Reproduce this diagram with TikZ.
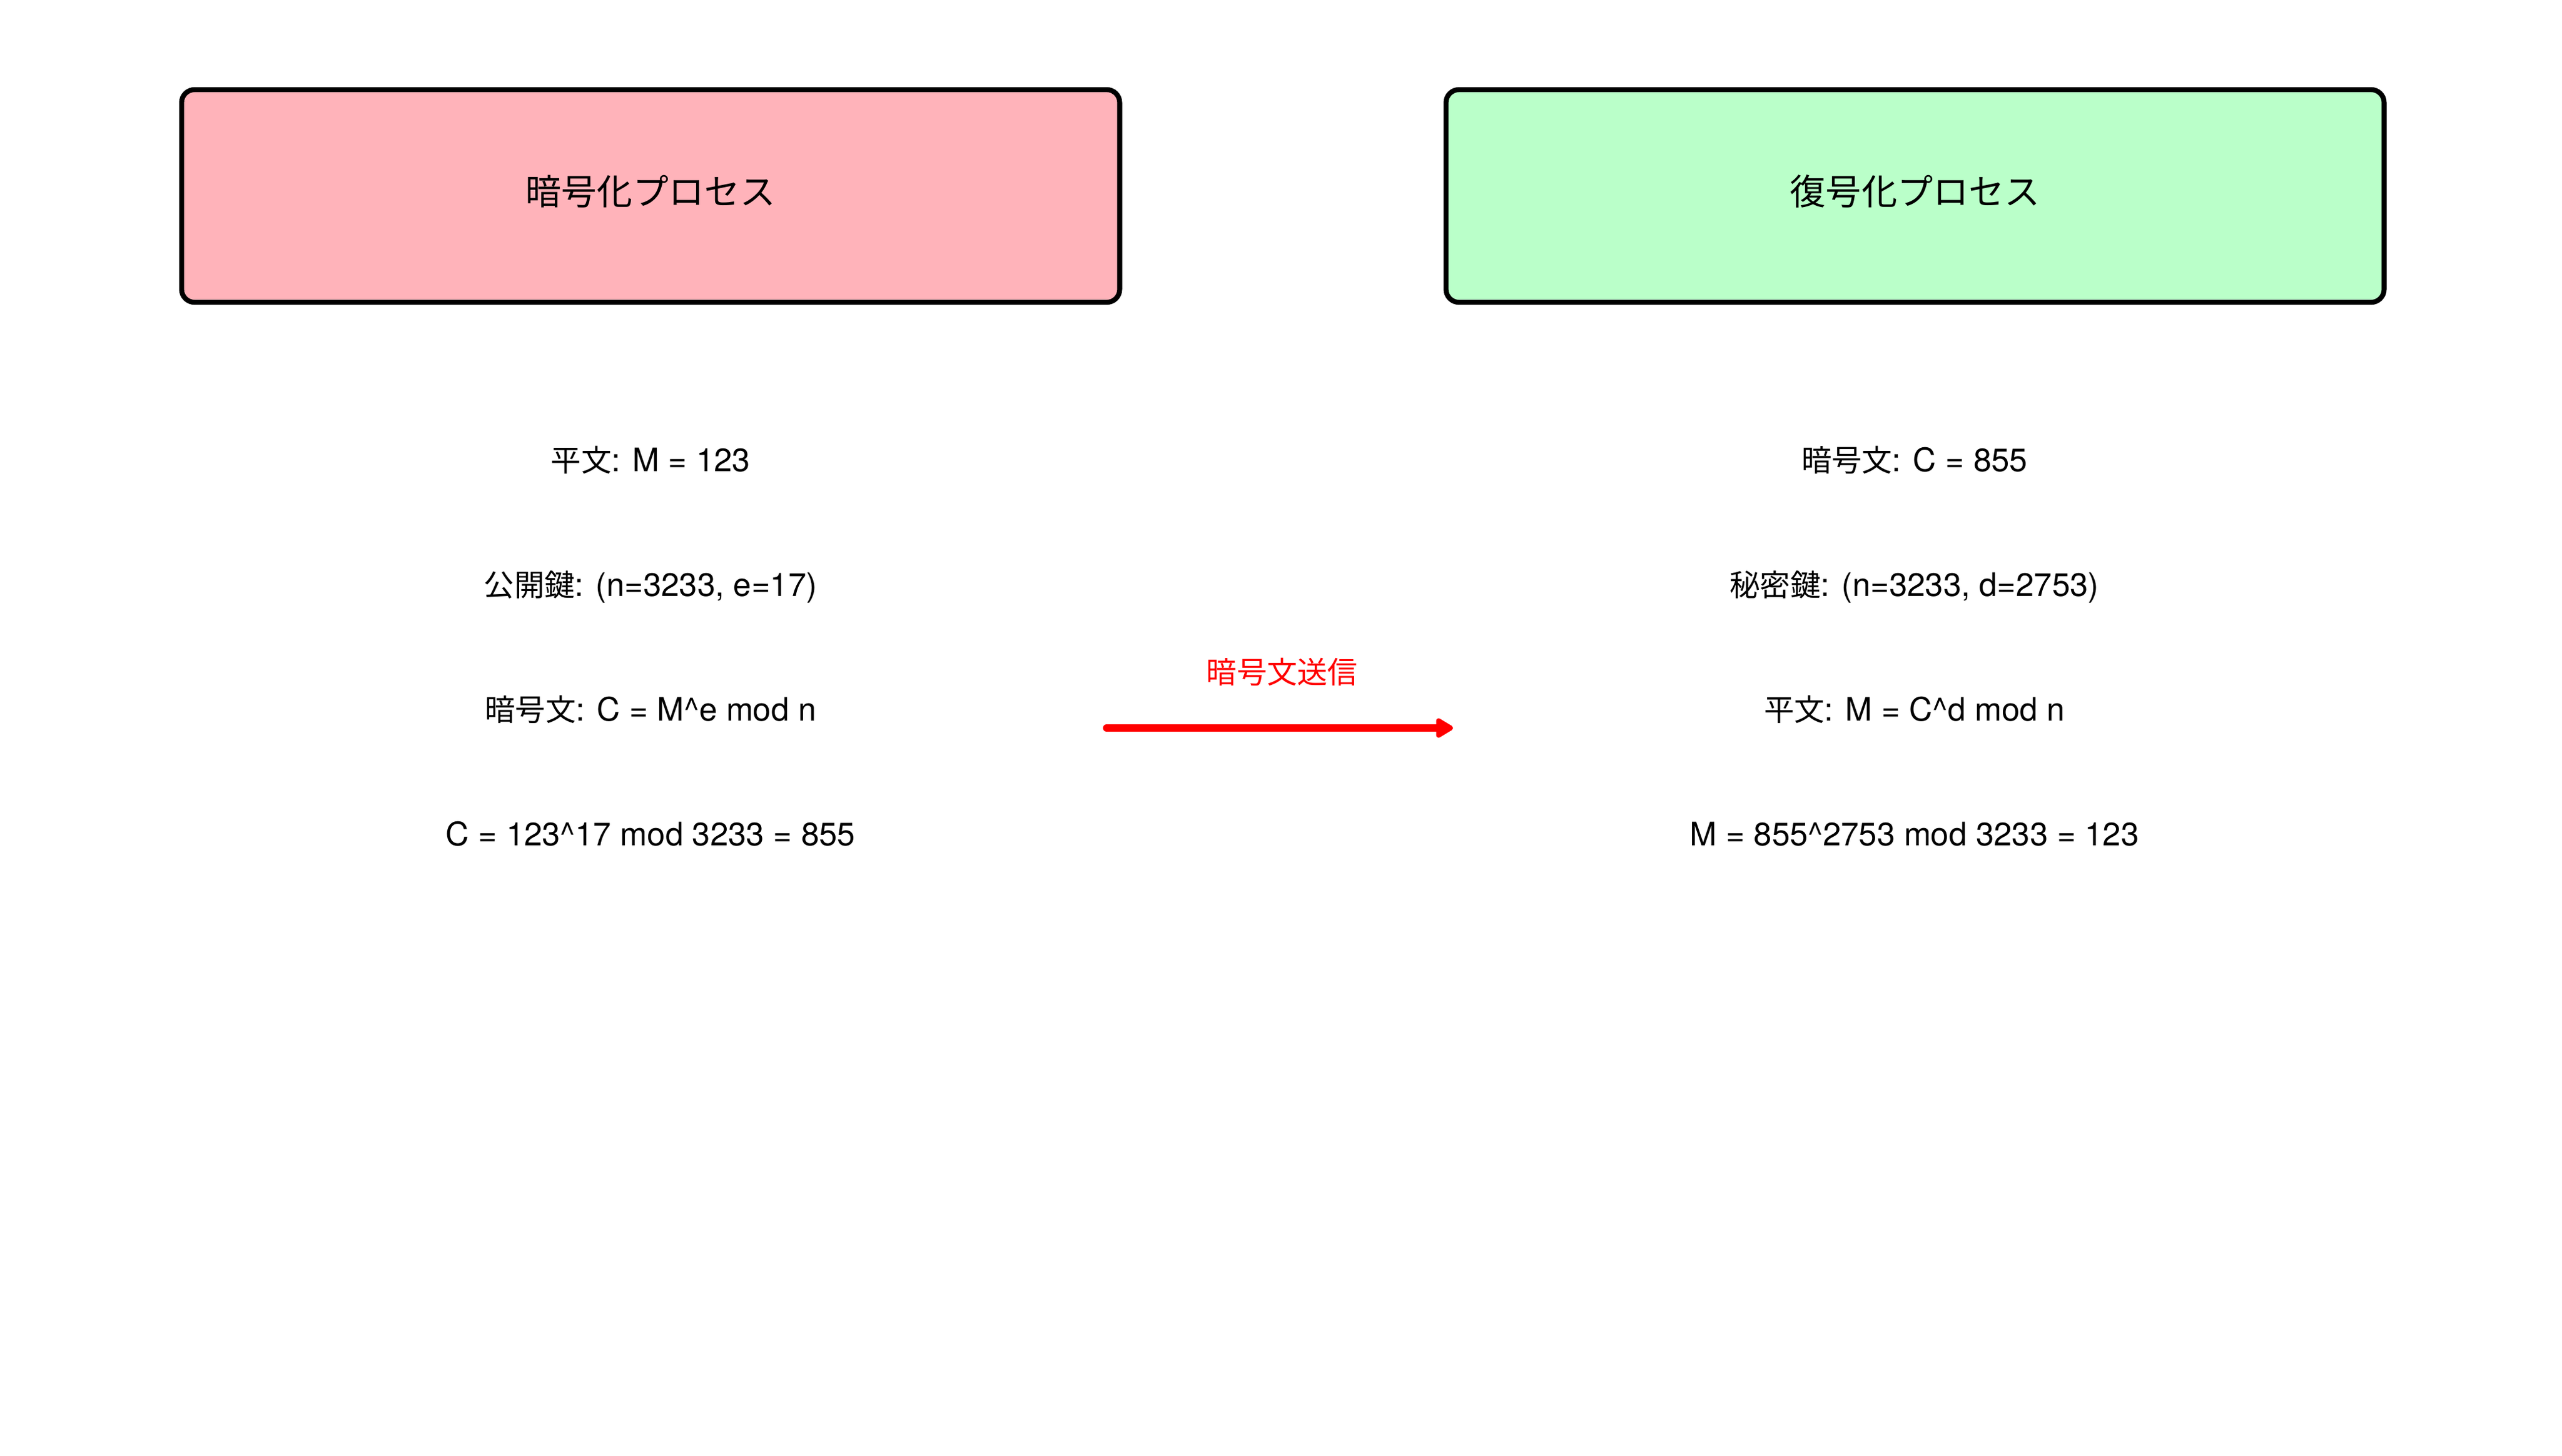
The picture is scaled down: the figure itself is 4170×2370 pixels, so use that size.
\documentclass[tikz,border=0pt]{standalone}
\usepackage{fontspec}
\setmainfont[Scale=1.07]{TeX Gyre Heros}
\newfontfamily\jpfont{Noto Sans CJK JP}
\usetikzlibrary{arrows.meta}
\definecolor{encfill}{HTML}{FFB3BA}
\definecolor{decfill}{HTML}{BAFFC9}
\newcommand{\jp}[1]{{\jpfont #1}}
\tikzset{
  procbox/.style = {draw = black, line width = 2.3pt, rounded corners = 6pt,
    minimum width = 15.26cm, minimum height = 3.46cm, text height = 12pt, text depth = 3.5pt,
    font = \fontsize{16.5}{20}\selectfont\jpfont},
  steptext/.style = {anchor = base, inner sep = 0pt, font = \fontsize{14}{17}\selectfont},
}
\begin{document}
\begin{tikzpicture}[x = 0.01cm, y = -0.01cm]
        \useasboundingbox (0, 0) rectangle (4170, 2370);
        \node[procbox, fill = encfill] (enc) at (1059, 319) {暗号化プロセス};
        \node[procbox, fill = decfill] (dec) at (3117, 319) {復号化プロセス};
        \node[steptext] (e0) at (1059, 767) {\jp{平文}: M = 123};
        \node[steptext] (e1) at (1059, 970) {\jp{公開鍵}: (n=3233, e=17)};
        \node[steptext] (e2) at (1059, 1173) {\jp{暗号文}: C = M\^{}e mod n};
        \node[steptext] (e3) at (1059, 1376) {C = 123\^{}17 mod 3233 = 855};
        \node[steptext] (d0) at (3116, 767) {\jp{暗号文}: C = 855};
        \node[steptext] (d1) at (3116, 970) {\jp{秘密鍵}: (n=3233, d=2753)};
        \node[steptext] (d2) at (3116, 1173) {\jp{平文}: M = C\^{}d mod n};
        \node[steptext] (d3) at (3116, 1376) {M = 855\^{}2753 mod 3233 = 123};
        \coordinate (s0) at (1801, 1185);
        \coordinate (s1) at (2365, 1185);
        \node[steptext, text = red] (send) at (2087, 1112) {\jp{暗号文送信}};
        \draw[red, line width = 3.3pt, line cap = round,
          -{Triangle[round, length = 9pt, width = 10pt]}] (s0) -- (s1);
        \end{tikzpicture}
\end{document}
